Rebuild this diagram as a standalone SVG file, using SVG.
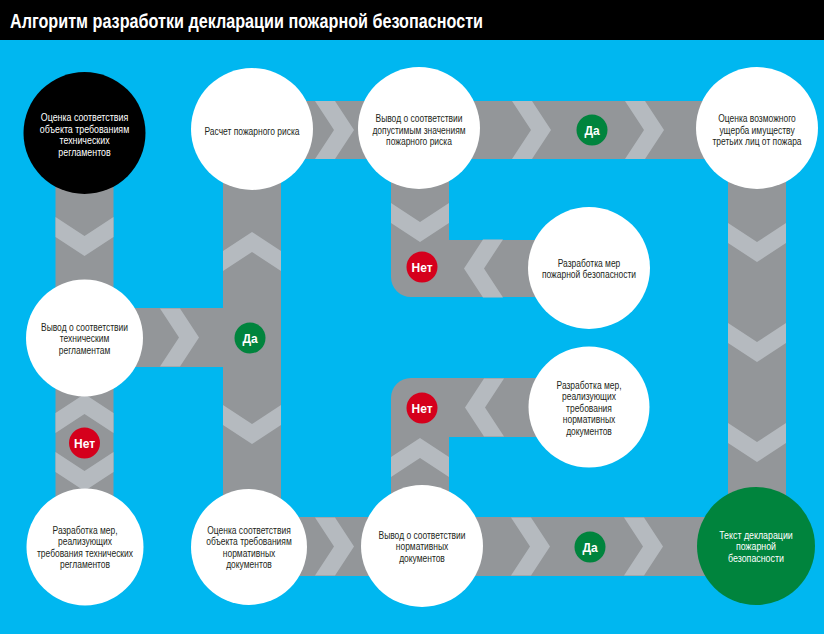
<svg xmlns="http://www.w3.org/2000/svg" xmlns:xlink="http://www.w3.org/1999/xlink" width="824" height="634" viewBox="0 0 824 634">
<style>
.band{fill:#939699}
.chev{fill:#b5babf}
.wc{fill:#ffffff}
.t{font-family:"Liberation Sans",Arial,sans-serif;font-size:11px;fill:#231f20;text-anchor:middle}
.tw{font-family:"Liberation Sans",Arial,sans-serif;font-size:11.5px;fill:#ffffff;text-anchor:middle}
.badge{font-family:"Liberation Sans",Arial,sans-serif;font-size:12px;font-weight:bold;fill:#ffffff;text-anchor:middle}
.yes{fill:#00843d}
.no{fill:#d5001c}
</style>
<defs>
<path id="chev" d="M-29,0 L0,19 L29,0 L29,20 L0,39 L-29,20 Z"/>
</defs>
<rect x="0" y="0" width="824" height="634" fill="#00b7f0"/>
<rect x="0" y="0" width="824" height="40" fill="#000000"/>
<text x="10" y="28" font-family="'Liberation Sans',Arial,sans-serif" font-size="21" font-weight="bold" fill="#ffffff" textLength="473" lengthAdjust="spacingAndGlyphs">Алгоритм разработки декларации пожарной безопасности</text>

<g id="connectors">
<rect class="band" x="55.5" y="133" width="58" height="414"/>
<rect class="band" x="223" y="129" width="58" height="418"/>
<rect class="band" x="728" y="128" width="58" height="418"/>
<rect class="band" x="252" y="101" width="505" height="58"/>
<rect class="band" x="250" y="517" width="506" height="59"/>
<rect class="band" x="84" y="308" width="168" height="59"/>
<path class="band" d="M391,128 L449,128 L449,240 L589,240 L589,297 L411,297 A20,20 0 0 1 391,277 Z"/>
<path class="band" d="M589,378 L411,378 A20,20 0 0 0 391,398 L391,546 L449,546 L449,437 L589,437 Z"/>
<use xlink:href="#chev" class="chev" transform="translate(84.5,217)"/>
<use xlink:href="#chev" class="chev" transform="translate(84.5,433) rotate(180)"/>
<use xlink:href="#chev" class="chev" transform="translate(84.5,452)"/>
<use xlink:href="#chev" class="chev" transform="translate(252,271) rotate(180)"/>
<use xlink:href="#chev" class="chev" transform="translate(252,405)"/>
<use xlink:href="#chev" class="chev" transform="translate(420,203)"/>
<use xlink:href="#chev" class="chev" transform="translate(420,477) rotate(180)"/>
<use xlink:href="#chev" class="chev" transform="translate(757,223)"/>
<use xlink:href="#chev" class="chev" transform="translate(757,323)"/>
<use xlink:href="#chev" class="chev" transform="translate(757,423)"/>
<use xlink:href="#chev" class="chev" transform="translate(315,130) rotate(-90)"/>
<use xlink:href="#chev" class="chev" transform="translate(512,130) rotate(-90)"/>
<use xlink:href="#chev" class="chev" transform="translate(625,130) rotate(-90)"/>
<use xlink:href="#chev" class="chev" transform="translate(160,337.5) rotate(-90)"/>
<use xlink:href="#chev" class="chev" transform="translate(315,546.5) rotate(-90)"/>
<use xlink:href="#chev" class="chev" transform="translate(511,546.5) rotate(-90)"/>
<use xlink:href="#chev" class="chev" transform="translate(624,546.5) rotate(-90)"/>
<use xlink:href="#chev" class="chev" transform="translate(503,268.5) rotate(90)"/>
<use xlink:href="#chev" class="chev" transform="translate(504,407.5) rotate(90)"/>
<g id="badges">
<circle class="yes" cx="592" cy="130" r="15.5"/><text class="badge" x="592" y="134.5">Да</text>
<circle class="yes" cx="250" cy="338" r="15.5"/><text class="badge" x="250" y="342.5">Да</text>
<circle class="yes" cx="590" cy="547" r="15.5"/><text class="badge" x="590" y="551.5">Да</text>
<circle class="no" cx="422" cy="267" r="15.5"/><text class="badge" x="422" y="271.5">Нет</text>
<circle class="no" cx="422" cy="408" r="15.5"/><text class="badge" x="422" y="412.5">Нет</text>
<circle class="no" cx="84.5" cy="443" r="15.5"/><text class="badge" x="84.5" y="447.5">Нет</text>
</g>
</g>

<g id="node-tech-check">
<circle cx="84.5" cy="133" r="61" fill="#000000"/>
<text class="tw" transform="translate(84.5,0) scale(0.77,1)"><tspan x="0" y="121">Оценка соответствия</tspan><tspan x="0" y="133">объекта требованиям</tspan><tspan x="0" y="144.5">технических</tspan><tspan x="0" y="156">регламентов</tspan></text>
</g>
<g id="node-risk-calc">
<circle class="wc" cx="252" cy="129" r="61"/>
<text class="t" transform="translate(252,0) scale(0.77,1)"><tspan x="0" y="135">Расчет пожарного риска</tspan></text>
</g>
<g id="node-risk-conclusion">
<circle class="wc" cx="419" cy="128" r="61"/>
<text class="t" transform="translate(419,0) scale(0.77,1)"><tspan x="0" y="122">Вывод о соответствии</tspan><tspan x="0" y="134">допустимым значениям</tspan><tspan x="0" y="145.5">пожарного риска</tspan></text>
</g>
<g id="node-damage">
<circle class="wc" cx="757" cy="128" r="61"/>
<text class="t" transform="translate(757,0) scale(0.77,1)"><tspan x="0" y="122">Оценка возможного</tspan><tspan x="0" y="134">ущерба имуществу</tspan><tspan x="0" y="145.5">третьих лиц от пожара</tspan></text>
</g>
<g id="node-fire-measures">
<circle class="wc" cx="589" cy="268" r="61"/>
<text class="t" transform="translate(589,0) scale(0.77,1)"><tspan x="0" y="267">Разработка мер</tspan><tspan x="0" y="278.5">пожарной безопасности</tspan></text>
</g>
<g id="node-tech-conclusion">
<circle class="wc" cx="84.5" cy="338" r="58.5"/>
<text class="t" transform="translate(84.5,0) scale(0.77,1)"><tspan x="0" y="331">Вывод о соответствии</tspan><tspan x="0" y="342.5">техническим</tspan><tspan x="0" y="354">регламентам</tspan></text>
</g>
<g id="node-tech-measures">
<circle class="wc" cx="85" cy="547" r="58.5"/>
<text class="t" transform="translate(85,0) scale(0.77,1)"><tspan x="0" y="534">Разработка мер,</tspan><tspan x="0" y="545.5">реализующих</tspan><tspan x="0" y="557">требования технических</tspan><tspan x="0" y="568.5">регламентов</tspan></text>
</g>
<g id="node-norm-check">
<circle class="wc" cx="249" cy="547" r="58"/>
<text class="t" transform="translate(249,0) scale(0.77,1)"><tspan x="0" y="534">Оценка соответствия</tspan><tspan x="0" y="545.5">объекта требованиям</tspan><tspan x="0" y="557">нормативных</tspan><tspan x="0" y="568.5">документов</tspan></text>
</g>
<g id="node-norm-conclusion">
<circle class="wc" cx="422" cy="546" r="61"/>
<text class="t" transform="translate(422,0) scale(0.77,1)"><tspan x="0" y="539">Вывод о соответствии</tspan><tspan x="0" y="550.5">нормативных</tspan><tspan x="0" y="562">документов</tspan></text>
</g>
<g id="node-norm-measures">
<circle class="wc" cx="589" cy="407" r="60.5"/>
<text class="t" transform="translate(589,0) scale(0.77,1)"><tspan x="0" y="389">Разработка мер,</tspan><tspan x="0" y="400.5">реализующих</tspan><tspan x="0" y="412">требования</tspan><tspan x="0" y="423.5">нормативных</tspan><tspan x="0" y="435">документов</tspan></text>
</g>
<g id="node-declaration">
<circle cx="756" cy="546" r="59" fill="#00843d"/>
<text class="tw" transform="translate(756,0) scale(0.77,1)"><tspan x="0" y="539">Текст декларации</tspan><tspan x="0" y="550.5">пожарной</tspan><tspan x="0" y="562">безопасности</tspan></text>
</g>
</svg>
